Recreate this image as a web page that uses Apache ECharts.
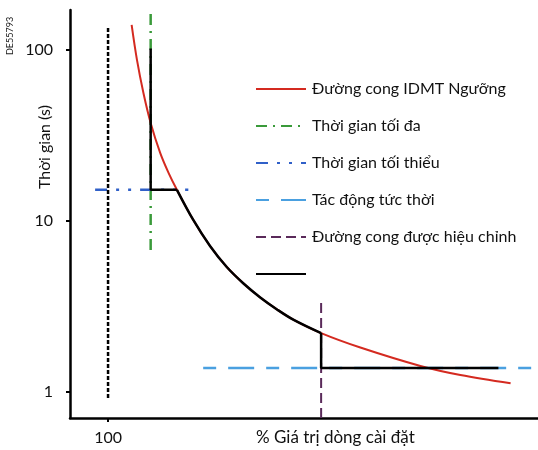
<!DOCTYPE html>
<html><head><meta charset="utf-8">
<script src="https://cdn.jsdelivr.net/npm/echarts@6/dist/echarts.min.js"></script>
<style>html,body{margin:0;padding:0;background:#fff}#c{width:538px;height:450px}</style>
</head><body><div id="c"></div>
<script>
// x: % of setting value (axis scale), y: time in seconds (log)
const xTicks = [100];
const yTicks = [1, 10, 100];
const idmtCurve = [[162,140],[176,87.4],[193,56.0],[212,37.4],[237,25.0],[259,19.1],[281,15.2],[324,10.13],[368,7.14],[412,5.38],[456,4.31],[500,3.57],[544,3.04],[588,2.64],[660,2.21],[763,1.82],[921,1.42],[1026,1.257],[1158,1.124]];
const maxTime = [[212,162],[212,6.77]];
const minTime = [[66,15.2],[311,15.2]];
const instTrip = [[350,1.38],[1230,1.38]];
const adjusted = [[660,3.31],[660,0.705]];
const resultStep = [[212,102],[212,15.2],[281,15.2]];
const resultCurve = [[281,15.2],[324,10.13],[368,7.14],[412,5.38],[456,4.31],[500,3.57],[544,3.04],[588,2.64],[660,2.21]];
const resultTail = [[660,2.21],[660,1.38],[1126,1.38]];
const settingLine = [[100,134],[100,0.92]];
const names = ['Đường cong IDMT Ngưỡng','Thời gian tối đa','Thời gian tối thiểu','Tác động tức thời','Đường cong được hiệu chỉnh',' '];

const FONT = 'Lato';
const chart = echarts.init(document.getElementById('c'));
function ln(name, data, color, type, width, z, smooth){
  return {name, type:'line', data, symbol:'none', animation:false, silent:true, z:z||2, smooth:smooth||false,
    lineStyle:{color, width, type, cap:'butt'}, itemStyle:{color}};
}
chart.setOption({
  animation:false,
  textStyle:{fontFamily:FONT},
  grid:{left:70, right:0, top:10, bottom:32},
  xAxis:{type:'value', min:0, max:1230,
    axisLine:{lineStyle:{color:'#000', width:2.5}},
    axisTick:{show:true, customValues:xTicks, length:4, lineStyle:{color:'#000', width:2}},
    axisLabel:{customValues:xTicks, color:'#111', fontSize:16, margin:12, fontFamily:FONT},
    splitLine:{show:false}},
  yAxis:{type:'log', logBase:10, min:0.705, max:171,
    axisLine:{show:true, lineStyle:{color:'#000', width:2.5}},
    axisTick:{show:true, customValues:yTicks, length:4, lineStyle:{color:'#000', width:2}},
    axisLabel:{customValues:yTicks, color:'#111', fontSize:16, margin:17, fontFamily:FONT},
    splitLine:{show:false}},
  legend:{orient:'vertical', left:255, top:81, padding:0, itemWidth:50, itemHeight:14, itemGap:21,
    data:names, selectedMode:false,
    itemStyle:{color:'transparent', borderColor:'transparent', borderWidth:0, opacity:0},
    textStyle:{fontSize:16, color:'#111', fontFamily:FONT, padding:[0,0,0,1]}},
  graphic:[
    {type:'text', left:256, top:429, style:{text:'% Giá trị dòng cài đặt', fontSize:17, fill:'#111', fontFamily:FONT}},
    {type:'text', x:37, y:189, rotation:Math.PI/2, style:{text:'Thời gian (s)', fontSize:16, fill:'#111', fontFamily:FONT}},
    {type:'text', x:6, y:55, rotation:Math.PI/2, style:{text:'DE55793', fontSize:9, fill:'#222', fontFamily:FONT}}
  ],
  series:[
    ln(names[0], idmtCurve, '#d42a20', 'solid', 2, 3, 0.35),
    ln(names[1], maxTime, '#3a9a3a', [11,6,2,6], 2.5, 2),
    ln(names[2], minTime, '#3060c8', [12,9,3,9,3,9], 2.5, 2),
    ln(names[3], instTrip, '#4aa0e0', [13,12,26,12], 2.5, 2),
    ln(names[4], adjusted, '#5a2a5a', [10,5], 2, 2),
    ln(names[5], resultStep, '#000', 'solid', 2.5, 4),
    ln(names[5], resultCurve, '#000', 'solid', 2.5, 4, 0.35),
    ln(names[5], resultTail, '#000', 'solid', 2.5, 4),
    ln('setting', settingLine, '#000', [4,2], 2.5, 2)
  ]
});
</script></body></html>
